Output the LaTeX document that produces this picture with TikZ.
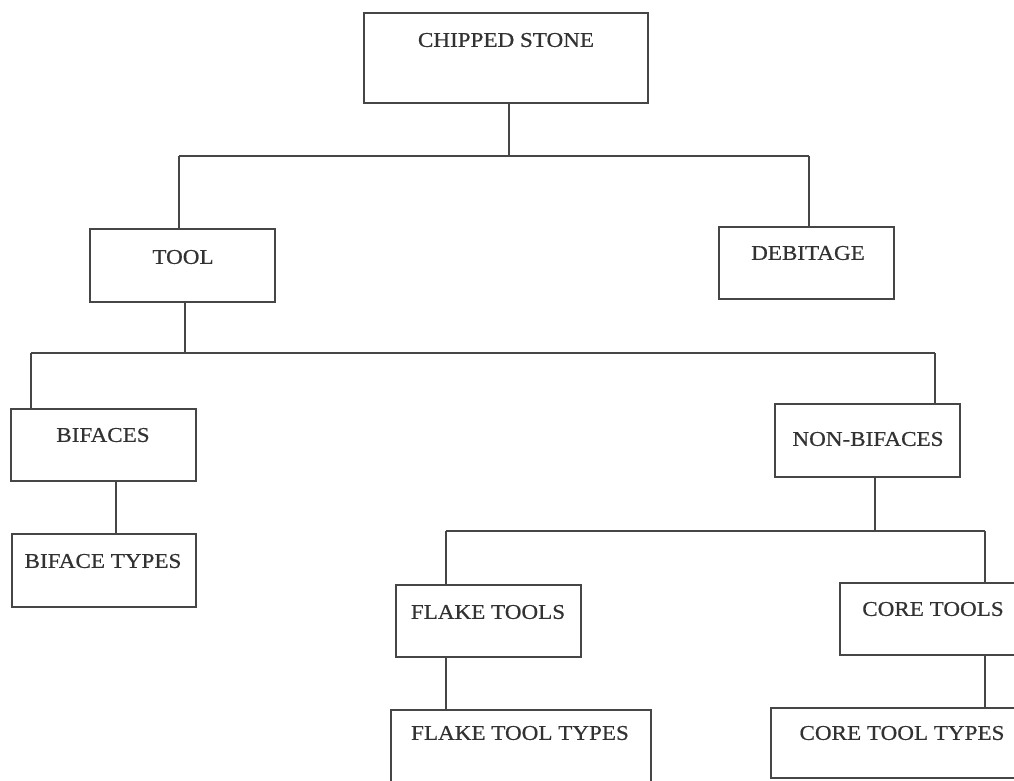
\documentclass[tikz,border=0pt]{standalone}
\usepackage{fontspec}
\setmainfont{Liberation Serif}[FakeStretch=1.1,FakeBold=0.6]
\definecolor{ink}{RGB}{70,70,70}
\definecolor{txt}{RGB}{50,50,50}
\begin{document}
\begin{tikzpicture}[x=1pt,y=-1pt,
  box/.style={draw=ink,line width=1.2pt,inner sep=0pt,outer sep=0pt},
  lbl/.style={text=txt,inner sep=0pt,font=\fontsize{21}{24}\selectfont},
  conn/.style={draw=ink,line width=1.2pt}]
\useasboundingbox (0,0) rectangle (1014,780);
\clip (0,0) rectangle (1014,780);
\fill[white] (0,0) rectangle (1014,780);
% boxes (centre, width, height)
\node[box,minimum width=284pt,minimum height=90pt] (cs) at (506,58) {};
\node[box,minimum width=185pt,minimum height=73pt] (tool) at (182.5,265.5) {};
\node[box,minimum width=175pt,minimum height=72pt] (deb) at (806.5,263) {};
\node[box,minimum width=185pt,minimum height=72pt] (bif) at (103.5,445) {};
\node[box,minimum width=184pt,minimum height=73pt] (biftypes) at (104,570.5) {};
\node[box,minimum width=185pt,minimum height=73pt] (nonbif) at (867.5,440.5) {};
\node[box,minimum width=185pt,minimum height=72pt] (flake) at (488.5,621) {};
\node[box,minimum width=200pt,minimum height=72pt] (core) at (940,619) {};
\node[box,minimum width=260pt,minimum height=90pt] (flaketypes) at (521,755) {};
\node[box,minimum width=260pt,minimum height=70pt] (coretypes) at (901,743) {};
% labels
\node[lbl] (tcs) at (506,40) {CHIPPED STONE};
\node[lbl] (ttool) at (183,257) {TOOL};
\node[lbl] (tdeb) at (808,253) {DEBITAGE};
\node[lbl] (tbif) at (103,435) {BIFACES};
\node[lbl] (tbiftypes) at (103,561) {BIFACE TYPES};
\node[lbl] (tnonbif) at (868,439) {NON-BIFACES};
\node[lbl] (tflake) at (488,612) {FLAKE TOOLS};
\node[lbl] (tcore) at (933,609) {CORE TOOLS};
\node[lbl] (tflaketypes) at (520,733) {FLAKE TOOL TYPES};
\node[lbl] (tcoretypes) at (902,733) {CORE TOOL TYPES};
% bar junctions and drop lines
\coordinate (b1l) at (179,156);
\coordinate (b1r) at (809,156);
\coordinate (b2l) at (31,353);
\coordinate (b2r) at (935,353);
\coordinate (b3l) at (446,531);
\coordinate (b3r) at (985,531);
\coordinate (v1) at (509,0);
\coordinate (v2) at (185,0);
\coordinate (v3) at (116,0);
\coordinate (v4) at (875,0);
% connectors
\draw[conn] (cs.south -| v1) -- (v1 |- b1l);
\draw[conn] (b1l) -- (b1r);
\draw[conn] (b1l) -- (b1l |- tool.north);
\draw[conn] (b1r) -- (b1r |- deb.north);
\draw[conn] (tool.south -| v2) -- (v2 |- b2l);
\draw[conn] (b2l) -- (b2r);
\draw[conn] (b2l) -- (b2l |- bif.north);
\draw[conn] (b2r) -- (b2r |- nonbif.north);
\draw[conn] (bif.south -| v3) -- (v3 |- biftypes.north);
\draw[conn] (nonbif.south -| v4) -- (v4 |- b3l);
\draw[conn] (b3l) -- (b3r);
\draw[conn] (b3l) -- (b3l |- flake.north);
\draw[conn] (b3r) -- (b3r |- core.north);
\draw[conn] (flake.south -| b3l) -- (b3l |- flaketypes.north);
\draw[conn] (core.south -| b3r) -- (b3r |- coretypes.north);
\end{tikzpicture}
\end{document}
